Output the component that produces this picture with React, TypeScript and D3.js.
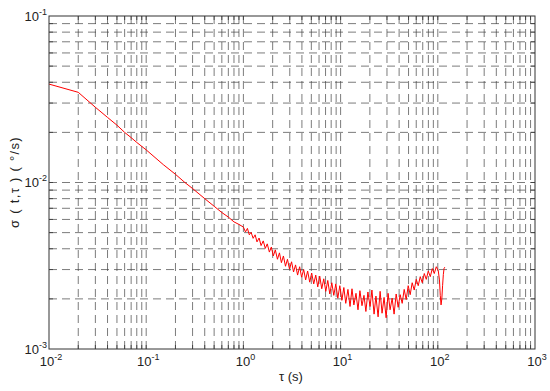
import React, { useEffect, useRef } from "react";
import * as d3 from "d3";

// averaging time tau (s) and Allan deviation sigma (deg/s)
const tau = [
  0.01, 0.02, 0.03, 0.04, 0.05, 0.06, 0.07, 0.08, 0.1, 0.15, 0.2, 0.25, 0.3, 0.4, 0.5, 0.6, 0.7,
  0.8, 0.9, 1.0, 1.05, 1.1, 1.15, 1.2, 1.26, 1.32, 1.38, 1.45, 1.52, 1.6, 1.68, 1.76, 1.85,
  1.94, 2.03, 2.13, 2.24, 2.35, 2.46, 2.58, 2.71, 2.84, 2.98, 3.13, 3.28, 3.44, 3.61, 3.79,
  3.97, 4.17, 4.37, 4.58, 4.81, 5.04, 5.29, 5.55, 5.82, 6.1, 6.4, 6.71, 7.04, 7.38, 7.74,
  8.12, 8.51, 8.93, 9.36, 9.82, 10.3, 10.8, 11.3, 11.9, 12.5, 13.1, 13.7, 14.4, 15.1, 15.8,
  16.6, 17.4, 18.2, 19.1, 20.1, 21.0, 22.1, 23.1, 24.3, 25.5, 26.7, 28.0, 29.4, 30.8, 32.3,
  33.9, 35.5, 37.3, 39.1, 41.0, 43.0, 45.1, 47.3, 49.6, 52.0, 54.5, 57.2, 60.0, 62.9, 66.0,
  69.2, 72.6, 76.1, 79.8, 83.7, 87.8, 92.0, 96.5, 101, 104, 106, 108, 110, 112, 114, 116, 118,
];

const sigma = [
  0.039, 0.0348, 0.0283, 0.0246, 0.0221, 0.02, 0.0186, 0.0174, 0.0157, 0.0128, 0.0112, 0.01,
  0.0092, 0.008, 0.0072, 0.0066, 0.0062, 0.0058, 0.0056, 0.0054, 0.00505, 0.0053, 0.00485,
  0.00502, 0.00462, 0.00485, 0.0044, 0.00464, 0.00418, 0.00446, 0.00402, 0.00428, 0.00382,
  0.0041, 0.00362, 0.00394, 0.00346, 0.00378, 0.0033, 0.00362, 0.00314, 0.00346, 0.00302,
  0.00334, 0.0029, 0.0032, 0.00278, 0.00312, 0.0027, 0.003, 0.0026, 0.00294, 0.00252,
  0.00286, 0.00246, 0.00278, 0.00236, 0.00274, 0.0023, 0.00264, 0.00222, 0.00258, 0.00214,
  0.0025, 0.0021, 0.00246, 0.00202, 0.0024, 0.00196, 0.00234, 0.00188, 0.00228, 0.0018,
  0.0023, 0.00184, 0.00216, 0.00172, 0.00224, 0.00182, 0.0021, 0.00168, 0.0022, 0.0018,
  0.00226, 0.00162, 0.00208, 0.00156, 0.00222, 0.00164, 0.00204, 0.00154, 0.00216, 0.00172,
  0.00202, 0.00162, 0.00214, 0.00178, 0.00212, 0.00188, 0.00228, 0.00198, 0.0024, 0.00212,
  0.0025, 0.00226, 0.00262, 0.0024, 0.00272, 0.0025, 0.00284, 0.00262, 0.00294, 0.00272,
  0.00304, 0.00284, 0.00312, 0.00296, 0.0026, 0.0021, 0.00184, 0.002, 0.0024, 0.0028, 0.00305,
  0.0031,
];

const xExponents = [-2, -1, 0, 1, 2, 3];
const yExponents = [-3, -2, -1];

const App = () => {
  const svgRef = useRef(null);

  useEffect(() => {
    const width = 550;
    const height = 391;
    const margin = { top: 16, right: 15, bottom: 42, left: 49 };
    const x0 = margin.left;
    const x1 = width - margin.right;
    const y0 = height - margin.bottom;
    const y1 = margin.top;

    const svg = d3.select(svgRef.current);
    svg.selectAll("*").remove();
    svg.attr("width", width).attr("height", height);

    const x = d3.scaleLog().domain([1e-2, 1e3]).range([x0, x1]);
    const y = d3.scaleLog().domain([1e-3, 1e-1]).range([y0, y1]);

    // every 1..9 step of each decade, inside the axes
    const logSteps = (exps) => {
      const out = [];
      for (let i = 0; i < exps.length - 1; i++) {
        for (let k = 1; k <= 9; k++) out.push(k * Math.pow(10, exps[i]));
      }
      return out;
    };
    const xGrid = logSteps(xExponents).filter((v) => v > 1e-2 * 1.001);
    const yGrid = logSteps(yExponents).filter((v) => v > 1e-3 * 1.001);

    const font = "Arial, 'Liberation Sans', Helvetica, sans-serif";
    const gridColor = "#444";

    // --- Grid ---
    const grid = svg.append("g");
    grid
      .selectAll(".vg")
      .data(xGrid)
      .join("line")
      .attr("x1", (d) => x(d))
      .attr("x2", (d) => x(d))
      .attr("y1", y0)
      .attr("y2", y1)
      .attr("stroke", gridColor)
      .attr("stroke-width", 0.7)
      .attr("stroke-dasharray", "8,5");

    grid
      .selectAll(".hg")
      .data(yGrid)
      .join("line")
      .attr("x1", x0)
      .attr("x2", x1)
      .attr("y1", (d) => y(d))
      .attr("y2", (d) => y(d))
      .attr("stroke", gridColor)
      .attr("stroke-width", 0.7)
      .attr("stroke-dasharray", "8,5");

    // --- Data line ---
    const pts = tau.map((t, i) => [t, sigma[i]]);
    const line = d3
      .line()
      .x((d) => x(d[0]))
      .y((d) => y(d[1]));

    svg
      .append("path")
      .datum(pts)
      .attr("d", line)
      .attr("fill", "none")
      .attr("stroke", "#ff0000")
      .attr("stroke-width", 1);

    // --- Box and ticks ---
    const axisColor = "#333";
    svg
      .append("rect")
      .attr("x", x0)
      .attr("y", y1)
      .attr("width", x1 - x0)
      .attr("height", y0 - y1)
      .attr("fill", "none")
      .attr("stroke", axisColor)
      .attr("stroke-width", 1);

    const tl = 4;
    const ticks = svg.append("g").attr("stroke", axisColor).attr("stroke-width", 0.8);
    xGrid.forEach((v) => {
      ticks.append("line").attr("x1", x(v)).attr("x2", x(v)).attr("y1", y0).attr("y2", y0 - tl);
      ticks.append("line").attr("x1", x(v)).attr("x2", x(v)).attr("y1", y1).attr("y2", y1 + tl);
    });
    yGrid.forEach((v) => {
      ticks.append("line").attr("x1", x0).attr("x2", x0 + tl).attr("y1", y(v)).attr("y2", y(v));
      ticks.append("line").attr("x1", x1).attr("x2", x1 - tl).attr("y1", y(v)).attr("y2", y(v));
    });

    // --- Tick labels ---
    xExponents.forEach((e) => {
      const t = svg
        .append("text")
        .attr("x", x(Math.pow(10, e)) + 2)
        .attr("y", 366)
        .attr("text-anchor", "middle")
        .style("font-family", font)
        .style("font-size", "13px")
        .style("fill", "#222")
        .text("10");
      t.append("tspan").attr("dy", -6).style("font-size", "9px").text(String(e));
    });

    yExponents.forEach((e) => {
      const t = svg
        .append("text")
        .attr("x", 47)
        .attr("y", y(Math.pow(10, e)) + 4.5)
        .attr("text-anchor", "end")
        .style("font-family", font)
        .style("font-size", "13px")
        .style("fill", "#222")
        .text("10");
      t.append("tspan").attr("dy", -6).style("font-size", "9px").text(String(e));
    });

    // --- Axis titles ---
    svg
      .append("text")
      .attr("x", 291)
      .attr("y", 381)
      .attr("text-anchor", "middle")
      .style("font-family", font)
      .style("font-size", "13px")
      .style("fill", "#222")
      .text("τ (s)");

    svg
      .append("text")
      .attr("transform", `translate(19, 182) rotate(-90)`)
      .attr("text-anchor", "middle")
      .style("font-family", font)
      .style("font-size", "13px")
      .style("letter-spacing", "1.3px")
      .style("fill", "#222")
      .text("σ ( t,τ )  ( °/s)");
  }, []);

  return (
    <svg
      ref={svgRef}
      style={{ position: "absolute", left: 0, top: 0, background: "#fff" }}
    ></svg>
  );
};

export default App;
